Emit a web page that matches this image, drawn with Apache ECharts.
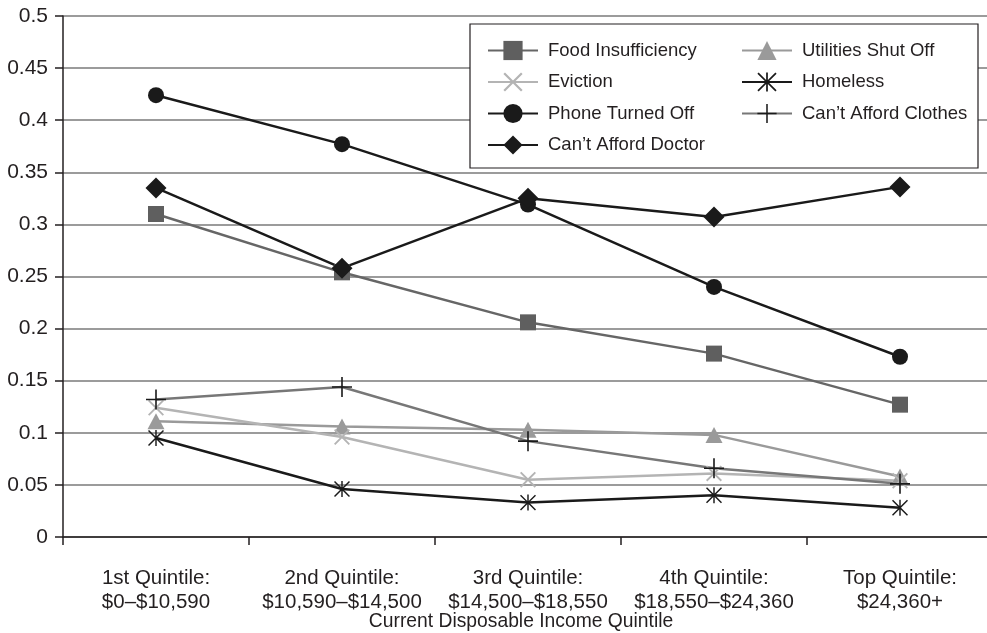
<!DOCTYPE html>
<html>
<head>
<meta charset="utf-8">
<script src="https://cdn.jsdelivr.net/npm/echarts@6/dist/echarts.min.js"></script>
<style>
html,body{margin:0;padding:0;background:#fff;}
#chart{width:987px;height:633px;}
</style>
</head>
<body>
<div id="chart"></div>
<script>
// ---- data ----
const categories = ['1st Quintile:\n$0–$10,590', '2nd Quintile:\n$10,590–$14,500', '3rd Quintile:\n$14,500–$18,550', '4th Quintile:\n$18,550–$24,360', 'Top Quintile:\n$24,360+'];
const yTicks = [0, 0.05, 0.1, 0.15, 0.2, 0.25, 0.3, 0.35, 0.4, 0.45, 0.5];
const foodInsufficiency = [0.310, 0.254, 0.206, 0.176, 0.127];
const utilitiesShutOff = [0.111, 0.106, 0.103, 0.098, 0.058];
const eviction = [0.124, 0.096, 0.055, 0.061, 0.054];
const homeless = [0.095, 0.046, 0.033, 0.040, 0.028];
const phoneTurnedOff = [0.424, 0.377, 0.319, 0.240, 0.173];
const cantAffordClothes = [0.132, 0.144, 0.092, 0.066, 0.051];
const cantAffordDoctor = [0.335, 0.258, 0.325, 0.307, 0.336];
const xTitle = 'Current Disposable Income Quintile';

// ---- symbol paths ----
function starPath(angles, lens, h) {
  const cx = 80, cy = 80, pts = [];
  const rad = d => d * Math.PI / 180;
  for (let i = 0; i < angles.length; i++) {
    const a = angles[i], R = lens[i];
    const p = angles[(i - 1 + angles.length) % angles.length];
    let gap = (a - p + 360) % 360;
    const bis = p + gap / 2;
    const d = h / Math.sin(rad(gap / 2));
    pts.push([cx + d * Math.cos(rad(bis)), cy + d * Math.sin(rad(bis))]);
    const tx = cx + R * Math.cos(rad(a)), ty = cy + R * Math.sin(rad(a));
    const px = -Math.sin(rad(a)), py = Math.cos(rad(a));
    pts.push([tx - h * px, ty - h * py]);
    pts.push([tx + h * px, ty + h * py]);
  }
  return 'path://M' + pts.map(q => q[0].toFixed(2) + ',' + q[1].toFixed(2)).join(' L') + ' Z';
}
const symX = starPath([45, 135, 225, 315], [50, 50, 50, 50], 4.5);
const symPlus = starPath([0, 90, 180, 270], [50, 50, 50, 50], 4);
const symAst = starPath([45, 90, 135, 225, 270, 315], [66, 50, 66, 66, 50, 66], 4.5);

const FONT = '"Liberation Sans", Arial, Helvetica, sans-serif';
const TXT = '#231f20';

function mk(name, data, color, symbol, size, lineColor, lw) {
  return {
    name, type: 'line', data, symbol, symbolSize: size,
    itemStyle: { color: color, borderWidth: 0 },
    lineStyle: { color: lineColor || color, width: lw || 2.5 },
    emphasis: { disabled: true },
    animation: false
  };
}

const legendCommon = {
  orient: 'vertical', padding: 0, itemWidth: 50, itemHeight: 24, itemGap: 7.5,
  textStyle: { color: TXT, fontFamily: FONT, fontSize: 18.5, lineHeight: 24, padding: [0, 0, 0, 5] },
  selectedMode: false, z: 5
};

const chart = echarts.init(document.getElementById('chart'));
chart.setOption({
  backgroundColor: '#fff',
  animation: false,
  grid: { left: 63, top: 16, width: 930, bottom: 96, containLabel: false, outerBoundsMode: 'none' },
  xAxis: {
    type: 'category', data: categories, boundaryGap: true,
    axisLine: { lineStyle: { color: '#231f20', width: 1.5 } },
    axisTick: { show: true, length: 8, lineStyle: { color: '#231f20', width: 1.5 } },
    axisLabel: { color: TXT, fontFamily: FONT, fontSize: 20.5, lineHeight: 24, margin: 29, interval: 0 },
    splitLine: { show: false }
  },
  yAxis: {
    type: 'value', min: 0, max: 0.5, interval: 0.05,
    axisLine: { show: true, lineStyle: { color: '#231f20', width: 1.5 } },
    axisTick: { show: true, length: 8, lineStyle: { color: '#231f20', width: 1.5 } },
    axisLabel: { color: TXT, fontFamily: FONT, fontSize: 21, margin: 15,
      formatter: v => { const t = yTicks.find(x => Math.abs(x - v) < 1e-9); return String(t !== undefined ? t : v); } },
    splitLine: { show: true, lineStyle: { color: '#7a7a7a', width: 1.5 } }
  },
  legend: [
    Object.assign({}, legendCommon, {
      data: ['Food Insufficiency', 'Eviction', 'Phone Turned Off', "Can’t Afford Doctor"],
      left: 487, top: 38.5
    }),
    Object.assign({}, legendCommon, {
      data: ['Utilities Shut Off', 'Homeless', "Can’t Afford Clothes"],
      left: 741, top: 38.5
    })
  ],
  graphic: [
    { type: 'rect', z: 3, shape: { x: 470, y: 24, width: 508, height: 144 },
      style: { fill: '#fff', stroke: '#231f20', lineWidth: 1.2 } },
    { type: 'text', z: 3, x: 521, y: 622, style: { text: xTitle, fill: TXT, font: '19.3px ' + FONT, textAlign: 'center', textVerticalAlign: 'middle' } }
  ],
  series: [
    mk('Food Insufficiency', foodInsufficiency, '#5f5f5f', 'rect', 16, '#666666'),
    mk('Utilities Shut Off', utilitiesShutOff, '#9a9a9a', 'triangle', [17, 16], '#9a9a9a'),
    mk('Eviction', eviction, '#b4b4b4', symX, 16, '#b4b4b4'),
    mk('Homeless', homeless, '#1a1a1a', symAst, [16, 16], '#1a1a1a'),
    mk('Phone Turned Off', phoneTurnedOff, '#1a1a1a', 'circle', 16, '#1a1a1a'),
    mk("Can’t Afford Clothes", cantAffordClothes, '#1a1a1a', symPlus, 20, '#777777'),
    mk("Can’t Afford Doctor", cantAffordDoctor, '#1a1a1a', 'diamond', [21, 21], '#1a1a1a')
  ]
});
</script>
</body>
</html>
